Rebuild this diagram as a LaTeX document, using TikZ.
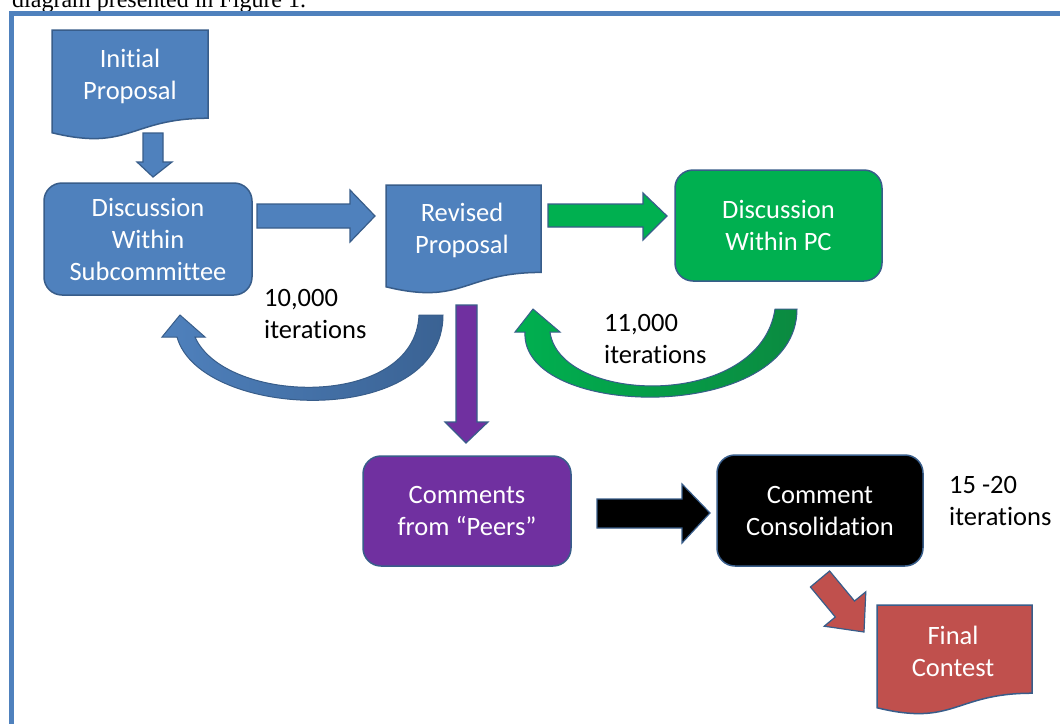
\documentclass[tikz,border=0pt]{standalone}
\usepackage{fontspec}
\setmainfont{Carlito}[Ligatures={NoCommon}]
\newfontfamily\capfont{Liberation Serif}
\definecolor{ofblue}{HTML}{4F81BD}
\definecolor{ofedge}{HTML}{385D8A}
\definecolor{ofgreen}{HTML}{00B050}
\definecolor{ofpurple}{HTML}{7030A0}
\definecolor{ofred}{HTML}{C0504D}
\definecolor{tailblue}{HTML}{3A6293}
\definecolor{tailgreen}{HTML}{0B8A40}
\definecolor{frameblue}{HTML}{4F81BD}
\newcommand\txtfont{\fontsize{26.5}{32}\selectfont}
% document shape: x, y (top-left), w, h, fill colour
\newcommand\mydoc[5]{%
  \path[draw=ofedge, line width=1.5pt, fill=#5]
    (#1,#2) -- ({#1+#3},#2) -- ({#1+#3},{#2+0.802*#4})
    .. controls ({#1+0.5*#3},{#2+0.802*#4}) and ({#1+0.5*#3},{#2+1.1075*#4}) ..
    (#1,{#2+0.934*#4}) -- cycle;}
\tikzset{
  box/.style={draw=ofedge, line width=1.5pt, rounded corners=18pt,
    text=white, align=center, font=\txtfont, inner sep=0pt},
  lbl/.style={text=white, align=center, font=\txtfont, inner sep=0pt},
  note/.style={text=black, align=left, font=\txtfont, inner sep=0pt, anchor=north west},
  blockarrow/.style={draw=ofedge, line width=1.2pt, line join=miter},
}
\begin{document}
\begin{tikzpicture}[x=1pt,y=-1pt]
\useasboundingbox (0,0) rectangle (1060,723);
\clip (0,0) rectangle (1060,723);
\fill[white] (0,0) rectangle (1060,723);
% caption fragment cut off at the top
\node[anchor=base west, inner sep=0pt, font=\capfont\fontsize{24}{26}\selectfont] (cap) at (12,7) {diagram presented in Figure 1.};
% frame
\draw[frameblue, line width=4.5pt] (11.5,13.5) rectangle (1090,760);

% document shapes
\mydoc{52}{30}{156}{110}{ofblue}
\node[lbl] (init) at (130,76) {Initial\\Proposal};
\mydoc{386}{185}{155}{109}{ofblue}
\node[lbl] (rev) at (462,230) {Revised\\Proposal};
\mydoc{877}{605}{155}{110}{ofred}
\node[lbl] (final) at (953,651) {Final\\Contest};

% rounded boxes
\node[box, fill=ofblue, minimum width=208pt, minimum height=112pt] (sub) at (148,239) {Discussion\\Within\\Subcommittee};
\node[box, fill=ofgreen, minimum width=207pt, minimum height=111pt] (pc) at (778.5,225.5) {Discussion\\Within PC};
\node[box, fill=ofpurple, minimum width=208pt, minimum height=110pt] (peers) at (467,511) {Comments\\from \textquotedblleft Peers\textquotedblright};
\node[box, fill=black, minimum width=206pt, minimum height=111pt] (cons) at (820,510.5) {Comment\\Consolidation};

% straight block arrows
\path[blockarrow, fill=ofblue] (143,133) -- (163,133) -- (163,162) -- (172,162) -- (153,177) -- (137,162) -- (143,162) -- cycle;
\path[blockarrow, fill=ofblue] (257,204) -- (350,204) -- (350,190) -- (375,216) -- (350,242) -- (350,228) -- (257,228) -- cycle;
\path[blockarrow, fill=ofgreen] (548,204) -- (643,204) -- (643,193) -- (667,216) -- (643,240) -- (643,227) -- (548,227) -- cycle;
\path[blockarrow, fill=ofpurple] (456,305) -- (477,305) -- (477,422) -- (488,422) -- (466,443) -- (445,422) -- (456,422) -- cycle;
\path[blockarrow, fill=black] (597,499) -- (682,499) -- (682,484) -- (710,513) -- (682,543) -- (682,528) -- (597,528) -- cycle;
\path[blockarrow, fill=ofred] (810.4,587) -- (829.6,571) -- (854.5,601) -- (865.8,591.8) -- (864,632) -- (824.2,626.2) -- (835.3,617) -- cycle;

% curved arrows
\path[draw=ofedge, line width=1pt, left color=ofblue, right color=tailblue]
  (180,315) -- (205,337) -- (195,337)
  .. controls (225,405) and (415,410) .. (419,315) -- (443,315)
  .. controls (443,430) and (200,420) .. (177,337) -- (162,337) -- cycle;
\path[draw=ofedge, line width=1pt, left color=ofgreen, right color=tailgreen]
  (533,309) -- (560,332) -- (550,332)
  .. controls (560,405) and (760,410) .. (775,309) -- (797,309)
  .. controls (797,425) and (520,420) .. (525,332) -- (515,332) -- cycle;

% iteration notes
\node[note] (n1) at (264,289) {10,000\\iterations};
\node[note] (n2) at (604,314) {11,000\\iterations};
\node[note] (n3) at (949,476) {15 -20\\iterations};
\end{tikzpicture}
\end{document}
